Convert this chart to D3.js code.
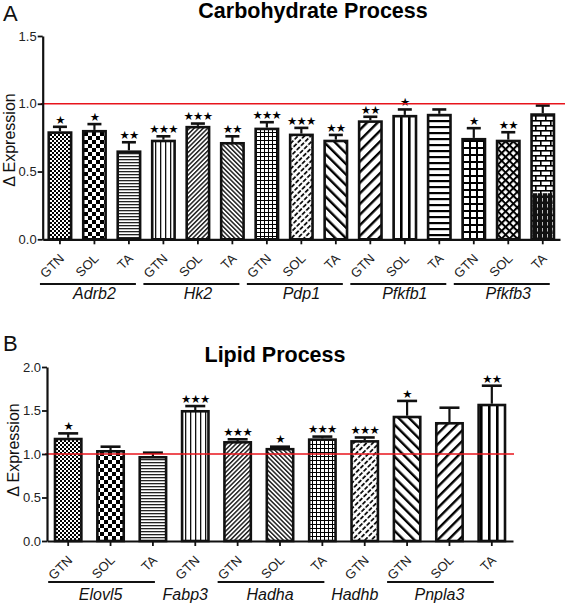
<!DOCTYPE html>
<html><head><meta charset="utf-8">
<script src="https://cdn.jsdelivr.net/npm/d3@7"></script>
<style>
body{margin:0;background:#fff;}
svg{display:block;font-family:"Liberation Sans",Arial,sans-serif;}
</style></head>
<body>
<svg id="chart" width="565" height="605"></svg>
<script>
// ---------- DATA ----------
const carbTissue = ["GTN","SOL","TA","GTN","SOL","TA","GTN","SOL","TA","GTN","SOL","TA","GTN","SOL","TA"];
const carbGene   = ["Adrb2","Adrb2","Adrb2","Hk2","Hk2","Hk2","Pdp1","Pdp1","Pdp1","Pfkfb1","Pfkfb1","Pfkfb1","Pfkfb3","Pfkfb3","Pfkfb3"];
const carbMean   = [0.797,0.807,0.656,0.735,0.837,0.718,0.824,0.780,0.735,0.878,0.918,0.926,0.748,0.735,0.930];
const carbErr    = [0.033,0.043,0.060,0.025,0.017,0.042,0.040,0.042,0.035,0.026,0.040,0.032,0.072,0.055,0.057];
const carbSig    = ["*","*","**","***","***","**","***","***","**","**","*","","*","**",""];
const carbTicks  = [0,0.5,1.0,1.5];

const lipTissue = ["GTN","SOL","TA","GTN","GTN","SOL","TA","GTN","GTN","SOL","TA"];
const lipGene   = ["Elovl5","Elovl5","Elovl5","Fabp3","Hadha","Hadha","Hadha","Hadhb","Pnpla3","Pnpla3","Pnpla3"];
const lipMean   = [1.187,1.046,0.977,1.506,1.149,1.070,1.180,1.160,1.440,1.368,1.578];
const lipErr    = [0.050,0.038,0.038,0.045,0.020,0.014,0.020,0.030,0.170,0.164,0.207];
const lipSig    = ["*","","","***","***","*","***","***","*","","**"];
const lipTicks  = [0,0.5,1.0,1.5,2.0];

const carbPatterns = ["dots","checker","hlines","vlines","fineF","fineB","grid","dashF","wideB","wideF","thickV","wideH","bigGrid","diamond","brick"];
const lipPatterns  = ["dots","checker","hlines","vlines","fineF","fineB","grid","dashF","wideB","wideF","thickV"];
const brickDarkUpTo = 0.34;   // lower, darker part of the Pfkfb3 TA fill

const baseline = 1.0;

// ---------- SVG / PATTERNS ----------
const svg = d3.select("#chart");
const defs = svg.append("defs");
function pat(id, w, h, transform, draw, bg="#fff") {
  const p = defs.append("pattern").attr("id", id)
    .attr("patternUnits","userSpaceOnUse").attr("width", w).attr("height", h);
  if (transform) p.attr("patternTransform", transform);
  p.append("rect").attr("width", w).attr("height", h).attr("fill", bg);
  draw(p);
}
const R = (p,x,y,w,h,c="#000") => p.append("rect").attr("x",x).attr("y",y).attr("width",w).attr("height",h).attr("fill",c);
pat("dots",4,4,null,p=>{R(p,0,0,2,2);R(p,2,2,2,2);});
pat("checker",8,8,null,p=>{R(p,0,0,4,4);R(p,4,4,4,4);});
pat("hlines",3,3,null,p=>{R(p,0,0,3,1.3,"#222");});
pat("vlines",5,5,null,p=>{R(p,0,0,1.3,5,"#111");});
pat("fineF",3.2,3.2,"rotate(45)",p=>{R(p,0,0,1.5,3.2,"#222");});
pat("fineB",3.2,3.2,"rotate(-45)",p=>{R(p,0,0,1.5,3.2,"#222");});
pat("grid",4,4,null,p=>{R(p,0,0,4,1);R(p,0,0,1,4);});
pat("dashF",4.5,6,"rotate(45)",p=>{R(p,0,0,1.8,4.3,"#111");});
pat("wideB",7.5,7.5,"rotate(-45)",p=>{R(p,0,0,2.4,7.5);});
pat("wideF",7.5,7.5,"rotate(45)",p=>{R(p,0,0,2.4,7.5);});
pat("thickV",8,8,null,p=>{R(p,0,0,2.6,8);});
pat("wideH",6,6,null,p=>{R(p,0,0,6,2.2);});
pat("bigGrid",7,7,null,p=>{R(p,0,0,7,2);R(p,0,0,2,7);});
pat("diamond",5.5,5.5,"rotate(45)",p=>{R(p,0,0,5.5,2);R(p,0,0,2,5.5);});
pat("brick",10,10,null,p=>{R(p,0,0,10,1.6);R(p,0,5,10,1.6);R(p,0,0,1.6,5);R(p,5,5,1.6,5);},"#fff");
pat("darkDash",5,6,null,p=>{R(p,2,0,1,3.5,"#bbb");},"#111");

// ---------- PANEL DRAWING ----------
function panel(o) {
  const g = svg.append("g");
  const n = o.mean.length;
  const x = d3.scaleBand().domain(d3.range(n)).range([o.x0,o.x1])
    .paddingInner(o.pad).paddingOuter(o.pad/2);
  const y = d3.scaleLinear().domain([0,o.ymax]).range([o.y0,o.ytop]);
  const sw = 2.6;

  // bars
  const bars = g.append("g");
  d3.range(n).forEach(i=>{
    const bx = x(i), bw = x.bandwidth(), v = o.mean[i];
    bars.append("rect").attr("x",bx+sw/2).attr("y",y(v)+sw/2)
      .attr("width",bw-sw).attr("height",y(0)-y(v)-sw/2)
      .attr("fill",`url(#${o.patterns[i]})`).attr("stroke","#111").attr("stroke-width",sw);
    if (o.patterns[i]==="brick") {
      bars.append("rect").attr("x",bx+sw).attr("y",y(brickDarkUpTo))
        .attr("width",bw-2*sw).attr("height",y(0)-y(brickDarkUpTo))
        .attr("fill","url(#darkDash)");
    }
    // error bar
    const cx = bx + bw/2, top = y(v+o.err[i]);
    bars.append("line").attr("x1",cx).attr("x2",cx).attr("y1",y(v)).attr("y2",top)
      .attr("stroke","#111").attr("stroke-width",2.2);
    bars.append("line").attr("x1",cx-o.cap/2).attr("x2",cx+o.cap/2).attr("y1",top).attr("y2",top)
      .attr("stroke","#111").attr("stroke-width",2.6);
    if (o.sig[i]) {
      bars.append("text").attr("x",cx).attr("y",top-3.2).attr("text-anchor","middle")
        .attr("font-family","DejaVu Sans").attr("font-size",11.5).attr("letter-spacing",-0.8).attr("fill","#000")
        .text(o.sig[i].replace(/\*/g,"\u2605"));
    }
  });

  // reference line
  g.append("line").attr("x1",o.x0-2).attr("x2",o.redEnd).attr("y1",y(baseline)).attr("y2",y(baseline))
    .attr("stroke","#e8141c").attr("stroke-width",1.6);

  // y axis
  const ya = g.append("g").attr("transform",`translate(${o.x0},0)`)
    .call(d3.axisLeft(y).tickValues(o.ticks).tickFormat(d3.format(".1f")).tickSize(5).tickSizeOuter(0));
  ya.select(".domain").attr("stroke","#111").attr("stroke-width",2.2);
  ya.selectAll(".tick line").attr("stroke","#111").attr("stroke-width",1.8);
  ya.selectAll(".tick text").attr("font-size",13).attr("fill","#222").attr("x",-6)
    .attr("font-family","Liberation Sans, Arial, sans-serif");

  // x axis
  const xa = g.append("g").attr("transform",`translate(0,${o.y0})`)
    .call(d3.axisBottom(x).tickSize(5).tickSizeOuter(0).tickFormat(i=>o.tissue[i]));
  xa.select(".domain").attr("stroke","#111").attr("stroke-width",2.2);
  xa.selectAll(".tick line").attr("stroke","#111").attr("stroke-width",1.8);
  xa.selectAll(".tick text").attr("font-size",13).attr("fill","#222")
    .attr("font-family","Liberation Sans, Arial, sans-serif")
    .attr("text-anchor","end").attr("dy",null).attr("y",0)
    .attr("transform","translate(5,20) rotate(-45)");

  // gene groups
  const genes = [];
  o.gene.forEach((gname,i)=>{
    const last = genes[genes.length-1];
    if (last && last.name===gname) last.idx.push(i); else genes.push({name:gname, idx:[i]});
  });
  genes.forEach(gr=>{
    const c0 = x(gr.idx[0]) + x.bandwidth()/2, c1 = x(gr.idx[gr.idx.length-1]) + x.bandwidth()/2;
    if (gr.idx.length>1) {
      g.append("line").attr("x1",c0-20).attr("x2",c1+o.lineExtra)
        .attr("y1",o.lineY).attr("y2",o.lineY).attr("stroke","#111").attr("stroke-width",2.2);
    }
    g.append("text").attr("x",(c0+c1)/2+o.labShift).attr("y",o.labY).attr("text-anchor","middle")
      .attr("font-style","italic").attr("font-size",16).attr("fill","#111").text(gr.name);
  });

  // title & labels
  g.append("text").attr("x",o.titleX).attr("y",o.titleY).attr("text-anchor","middle")
    .attr("font-weight","bold").attr("font-size",21.5).attr("fill","#000").text(o.title);
  g.append("text").attr("x",3).attr("y",o.letterY).attr("font-size",22).attr("fill","#111").text(o.letter);
  g.append("text").attr("transform",`translate(${o.ylabX},${o.ylabY}) rotate(-90)`)
    .attr("text-anchor","middle").attr("font-size",o.ylabSize).attr("fill","#111").text("\u0394 Expression");
}

panel({mean:carbMean, err:carbErr, sig:carbSig, tissue:carbTissue, gene:carbGene, patterns:carbPatterns,
  ticks:carbTicks, ymax:1.5, x0:42.7, x1:560, y0:239.3, ytop:36, pad:0.275, cap:14, redEnd:565,
  lineY:284, lineExtra:7, labY:299, labShift:0, title:"Carbohydrate Process", titleX:313, titleY:18,
  letter:"A", letterY:21, ylabX:15, ylabY:140, ylabSize:16});

panel({mean:lipMean, err:lipErr, sig:lipSig, tissue:lipTissue, gene:lipGene, patterns:lipPatterns,
  ticks:lipTicks, ymax:2.0, x0:47, x1:513, y0:541, ytop:367, pad:0.316, cap:20, redEnd:514,
  lineY:582, lineExtra:2, labY:600, labShift:-10, title:"Lipid Process", titleX:275, titleY:362,
  letter:"B", letterY:351, ylabX:19, ylabY:450, ylabSize:16});
</script>
</body></html>
